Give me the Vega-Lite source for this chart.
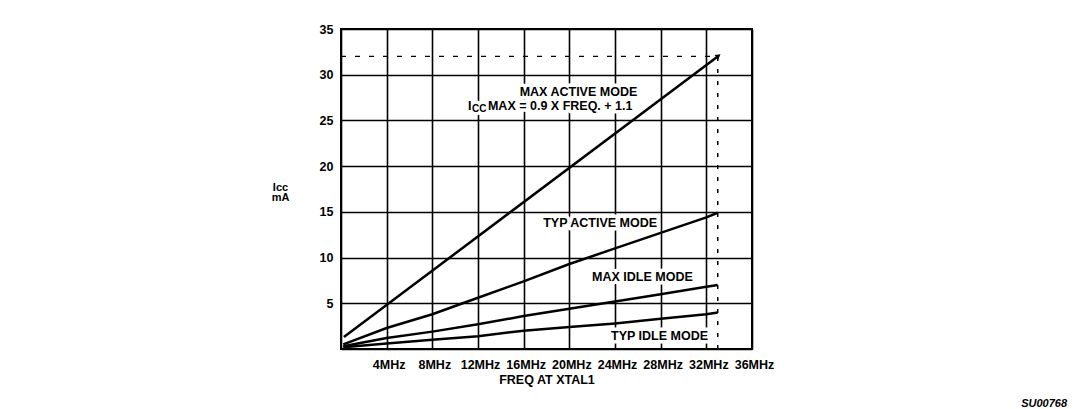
{
  "$schema": "https://vega.github.io/schema/vega-lite/v6.json",
  "width": 411,
  "height": 320,
  "autosize": {"type": "none"},
  "padding": {"left": 341, "top": 29, "right": 332, "bottom": 60},
  "background": "white",
  "title": {"text": "SU00768", "orient": "bottom", "anchor": "end", "frame": "group", "dx": 315, "offset": 12, "font": "Liberation Sans", "fontSize": 11, "fontWeight": "bold", "fontStyle": "italic", "color": "black"},
  "config": {
    "view": {"stroke": "black", "strokeWidth": 2},
    "axis": {"labelFont": "Liberation Sans", "labelFontWeight": "bold", "labelColor": "black", "labelFontSize": 12.5, "titleFont": "Liberation Sans", "titleFontWeight": "bold", "titleColor": "black", "gridColor": "black", "gridOpacity": 1, "gridWidth": 1.6, "domain": false, "ticks": false}
  },
  "datasets": {
    "curves": [
      {"series": "MAX ACTIVE", "freq": 0.25, "icc": 1.3},
      {"series": "MAX ACTIVE", "freq": 33, "icc": 32},
      {"series": "TYP ACTIVE", "freq": 0.2, "icc": 0.5},
      {"series": "TYP ACTIVE", "freq": 4, "icc": 2.3},
      {"series": "TYP ACTIVE", "freq": 8, "icc": 3.8},
      {"series": "TYP ACTIVE", "freq": 12, "icc": 5.6},
      {"series": "TYP ACTIVE", "freq": 16, "icc": 7.4},
      {"series": "TYP ACTIVE", "freq": 20, "icc": 9.3},
      {"series": "TYP ACTIVE", "freq": 24, "icc": 11.0},
      {"series": "TYP ACTIVE", "freq": 28, "icc": 12.7},
      {"series": "TYP ACTIVE", "freq": 32, "icc": 14.4},
      {"series": "TYP ACTIVE", "freq": 33, "icc": 14.9},
      {"series": "MAX IDLE", "freq": 0.2, "icc": 0.3},
      {"series": "MAX IDLE", "freq": 4, "icc": 1.2},
      {"series": "MAX IDLE", "freq": 8, "icc": 1.9},
      {"series": "MAX IDLE", "freq": 12, "icc": 2.7},
      {"series": "MAX IDLE", "freq": 16, "icc": 3.6},
      {"series": "MAX IDLE", "freq": 20, "icc": 4.4},
      {"series": "MAX IDLE", "freq": 24, "icc": 5.2},
      {"series": "MAX IDLE", "freq": 28, "icc": 6.0},
      {"series": "MAX IDLE", "freq": 32, "icc": 6.8},
      {"series": "MAX IDLE", "freq": 33, "icc": 7.0},
      {"series": "TYP IDLE", "freq": 0.2, "icc": 0.2},
      {"series": "TYP IDLE", "freq": 4, "icc": 0.6},
      {"series": "TYP IDLE", "freq": 8, "icc": 1.0},
      {"series": "TYP IDLE", "freq": 12, "icc": 1.4},
      {"series": "TYP IDLE", "freq": 16, "icc": 2.0},
      {"series": "TYP IDLE", "freq": 20, "icc": 2.4},
      {"series": "TYP IDLE", "freq": 24, "icc": 2.8},
      {"series": "TYP IDLE", "freq": 28, "icc": 3.3},
      {"series": "TYP IDLE", "freq": 32, "icc": 3.8},
      {"series": "TYP IDLE", "freq": 33, "icc": 4.0}
    ],
    "marker": [{"freq": 33, "icc": 32, "origin": 0}],
    "labels": [
      {"label": "MAX ACTIVE MODE", "freq": 20.8, "icc": 28.1},
      {"label": "TYP ACTIVE MODE", "freq": 22.7, "icc": 13.8},
      {"label": "MAX IDLE MODE", "freq": 26.4, "icc": 7.9},
      {"label": "TYP IDLE MODE", "freq": 27.9, "icc": 1.4}
    ],
    "formula": [{"freq": 11.12, "icc": 26.6, "i": "I", "cc": "CC", "rest": "MAX = 0.9 X FREQ. + 1.1"}]
  },
  "layer": [
    {
      "data": {"name": "curves"},
      "mark": {"type": "line", "color": "black", "strokeWidth": 2.5},
      "encoding": {
        "x": {"field": "freq", "type": "quantitative", "scale": {"domain": [0, 36], "nice": false},
          "axis": {"values": [0, 4, 8, 12, 16, 20, 24, 28, 32, 36], "labelExpr": "datum.value == 0 ? '' : datum.value + 'MHz'", "labelFlush": false, "labelPadding": 9, "labelOffset": 2, "title": "FREQ AT XTAL1", "titleFontSize": 12.5, "titlePadding": 3}},
        "y": {"field": "icc", "type": "quantitative", "scale": {"domain": [0, 35], "nice": false},
          "axis": {"values": [0, 5, 10, 15, 20, 25, 30, 35], "labelExpr": "datum.value == 0 ? '' : datum.label", "labelPadding": 8, "title": ["Iᴄᴄ", "mA"], "titleAngle": 0, "titleAlign": "center", "titleBaseline": "alphabetic", "titleX": -61, "titleY": 161, "titleFontSize": 11, "titleLineHeight": 10}},
        "detail": {"field": "series", "type": "nominal"}
      }
    },
    {
      "data": {"name": "marker"},
      "mark": {"type": "rule", "color": "black", "strokeWidth": 1.3, "strokeDash": [5, 9]},
      "encoding": {
        "x": {"field": "origin", "type": "quantitative"},
        "x2": {"field": "freq"},
        "y": {"field": "icc", "type": "quantitative"}
      }
    },
    {
      "data": {"name": "marker"},
      "mark": {"type": "rule", "color": "black", "strokeWidth": 1.5, "strokeDash": [4, 8]},
      "encoding": {
        "x": {"field": "freq", "type": "quantitative"},
        "y": {"field": "origin", "type": "quantitative"},
        "y2": {"field": "icc"}
      }
    },
    {
      "data": {"name": "marker"},
      "mark": {"type": "point", "shape": "triangle", "filled": true, "color": "black", "size": 35, "angle": 53, "opacity": 1},
      "encoding": {
        "x": {"field": "freq", "type": "quantitative"},
        "y": {"field": "icc", "type": "quantitative"}
      }
    },
    {
      "data": {"name": "labels"},
      "mark": {"type": "text", "font": "Liberation Sans", "fontWeight": "bold", "fontSize": 12.5, "baseline": "middle", "align": "center", "stroke": "white", "strokeWidth": 7, "strokeJoin": "round", "fill": "white"},
      "encoding": {
        "x": {"field": "freq", "type": "quantitative"},
        "y": {"field": "icc", "type": "quantitative"},
        "text": {"field": "label", "type": "nominal"}
      }
    },
    {
      "data": {"name": "labels"},
      "mark": {"type": "text", "font": "Liberation Sans", "fontWeight": "bold", "fontSize": 12.5, "baseline": "middle", "align": "center", "color": "black"},
      "encoding": {
        "x": {"field": "freq", "type": "quantitative"},
        "y": {"field": "icc", "type": "quantitative"},
        "text": {"field": "label", "type": "nominal"}
      }
    },
    {
      "data": {"name": "formula"},
      "mark": {"type": "text", "font": "Liberation Sans", "fontWeight": "bold", "fontSize": 12.5, "baseline": "middle", "align": "left", "dx": 20, "stroke": "white", "strokeWidth": 7, "strokeJoin": "round", "fill": "white"},
      "encoding": {
        "x": {"field": "freq", "type": "quantitative"},
        "y": {"field": "icc", "type": "quantitative"},
        "text": {"field": "rest", "type": "nominal"}
      }
    },
    {
      "data": {"name": "formula"},
      "mark": {"type": "text", "font": "Liberation Sans", "fontWeight": "bold", "fontSize": 10, "baseline": "middle", "align": "left", "dx": 4, "dy": 3, "stroke": "white", "strokeWidth": 7, "strokeJoin": "round", "fill": "white"},
      "encoding": {
        "x": {"field": "freq", "type": "quantitative"},
        "y": {"field": "icc", "type": "quantitative"},
        "text": {"field": "cc", "type": "nominal"}
      }
    },
    {
      "data": {"name": "formula"},
      "mark": {"type": "text", "font": "Liberation Sans", "fontWeight": "bold", "fontSize": 12.5, "baseline": "middle", "align": "left", "dx": 0, "color": "black"},
      "encoding": {
        "x": {"field": "freq", "type": "quantitative"},
        "y": {"field": "icc", "type": "quantitative"},
        "text": {"field": "i", "type": "nominal"}
      }
    },
    {
      "data": {"name": "formula"},
      "mark": {"type": "text", "font": "Liberation Sans", "fontWeight": "bold", "fontSize": 10, "baseline": "middle", "align": "left", "dx": 4, "dy": 3, "color": "black"},
      "encoding": {
        "x": {"field": "freq", "type": "quantitative"},
        "y": {"field": "icc", "type": "quantitative"},
        "text": {"field": "cc", "type": "nominal"}
      }
    },
    {
      "data": {"name": "formula"},
      "mark": {"type": "text", "font": "Liberation Sans", "fontWeight": "bold", "fontSize": 12.5, "baseline": "middle", "align": "left", "dx": 20, "color": "black"},
      "encoding": {
        "x": {"field": "freq", "type": "quantitative"},
        "y": {"field": "icc", "type": "quantitative"},
        "text": {"field": "rest", "type": "nominal"}
      }
    }
  ]
}
